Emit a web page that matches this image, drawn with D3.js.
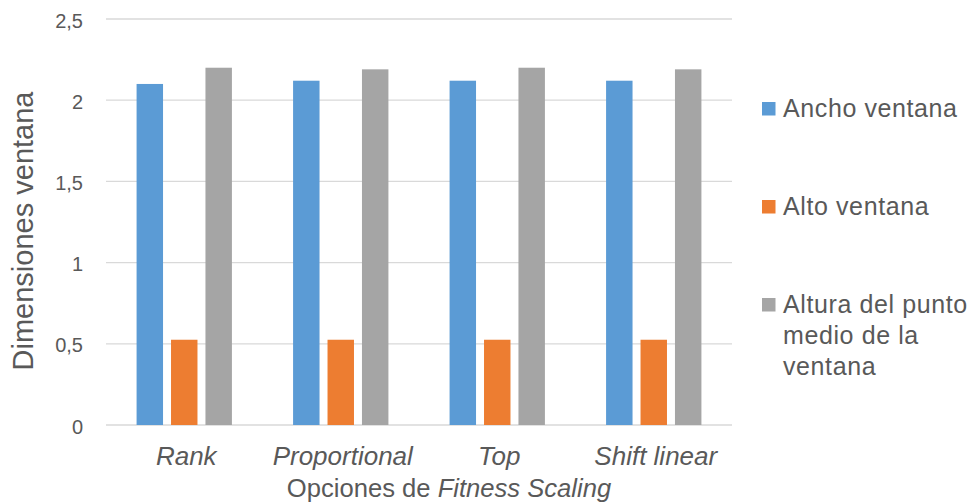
<!DOCTYPE html>
<html><head><meta charset="utf-8">
<script src="https://cdn.jsdelivr.net/npm/d3@7"></script>
<style>body{margin:0;background:#fff}svg{display:block}text{font-family:"Liberation Sans",Arial,sans-serif}</style>
</head><body>
<script>
const categories = ["Rank", "Proportional", "Top", "Shift linear"];
const seriesNames = ["Ancho ventana", "Alto ventana", "Altura del punto medio de la ventana"];
const anchoVentana = [2.10, 2.12, 2.12, 2.12];
const altoVentana = [0.525, 0.525, 0.525, 0.525];
const alturaPuntoMedio = [2.20, 2.19, 2.20, 2.19];
const yTicks = [0, 0.5, 1, 1.5, 2, 2.5];
const colors = ["#5b9bd5", "#ed7d31", "#a5a5a5"];

const seriesValues = [anchoVentana, altoVentana, alturaPuntoMedio];
const W = 972, H = 504;
const svg = d3.select("body").append("svg").attr("width", W).attr("height", H);

const x0 = d3.scaleBand().domain(categories).range([106, 732]);
const x1 = d3.scaleBand().domain(d3.range(3)).range([0, x0.bandwidth()]).paddingInner(0.232).paddingOuter(0.888);
const y = d3.scaleLinear().domain([0, 2.5]).range([425, 19]);

// gridlines
svg.append("g").selectAll("line").data(yTicks).join("line")
  .attr("x1", 106).attr("x2", 732)
  .attr("y1", d => y(d)).attr("y2", d => y(d))
  .attr("stroke", "#d9d9d9").attr("stroke-width", 1.3);

// y tick labels
const fmt = d => String(d).replace(".", ",");
svg.append("g").selectAll("text").data(yTicks).join("text")
  .attr("x", 83).attr("y", d => y(d) + 1.5).attr("dy", "0.35em")
  .attr("text-anchor", "end").attr("font-size", 20).attr("fill", "#595959")
  .text(fmt);

// bars
const groups = svg.append("g").selectAll("g").data(categories).join("g")
  .attr("transform", c => `translate(${x0(c)},0)`);
groups.selectAll("rect").data((c, i) => seriesValues.map((s, k) => ({k, v: s[i]}))).join("rect")
  .attr("x", d => x1(d.k)).attr("width", x1.bandwidth())
  .attr("y", d => y(d.v)).attr("height", d => y(0) - y(d.v))
  .attr("fill", d => colors[d.k]);

// x category labels
svg.append("g").selectAll("text").data(categories).join("text")
  .attr("x", c => x0(c) + x0.bandwidth() / 2 + 2).attr("y", 465)
  .attr("text-anchor", "middle").attr("font-size", 26).attr("font-style", "italic")
  .attr("fill", "#595959").text(c => c);

// x title
const xt = svg.append("text").attr("x", 449).attr("y", 497).attr("text-anchor", "middle")
  .attr("font-size", 25.6).attr("fill", "#595959");
xt.append("tspan").text("Opciones de ");
xt.append("tspan").attr("font-style", "italic").text("Fitness Scaling");

// y title
svg.append("text").attr("transform", "translate(33,231) rotate(-90)")
  .attr("text-anchor", "middle").attr("font-size", 29).attr("fill", "#595959")
  .text("Dimensiones ventana");

// legend
const legendBase = [117, 215, 313];
const legendLines = [["Ancho ventana"], ["Alto ventana"], ["Altura del punto", "medio de la", "ventana"]];
const lg = svg.append("g").selectAll("g").data(seriesNames).join("g");
lg.append("rect").attr("x", 762).attr("y", (d, i) => legendBase[i] - 15)
  .attr("width", 13.5).attr("height", 13.5).attr("fill", (d, i) => colors[i]);
lg.each(function(d, i) {
  const t = d3.select(this).append("text").attr("x", 783).attr("y", legendBase[i])
    .attr("font-size", 25).attr("letter-spacing", 0.6).attr("fill", "#595959");
  legendLines[i].forEach((ln, j) => t.append("tspan").attr("x", 783).attr("dy", j === 0 ? 0 : 31).text(ln));
});
</script>
</body></html>
